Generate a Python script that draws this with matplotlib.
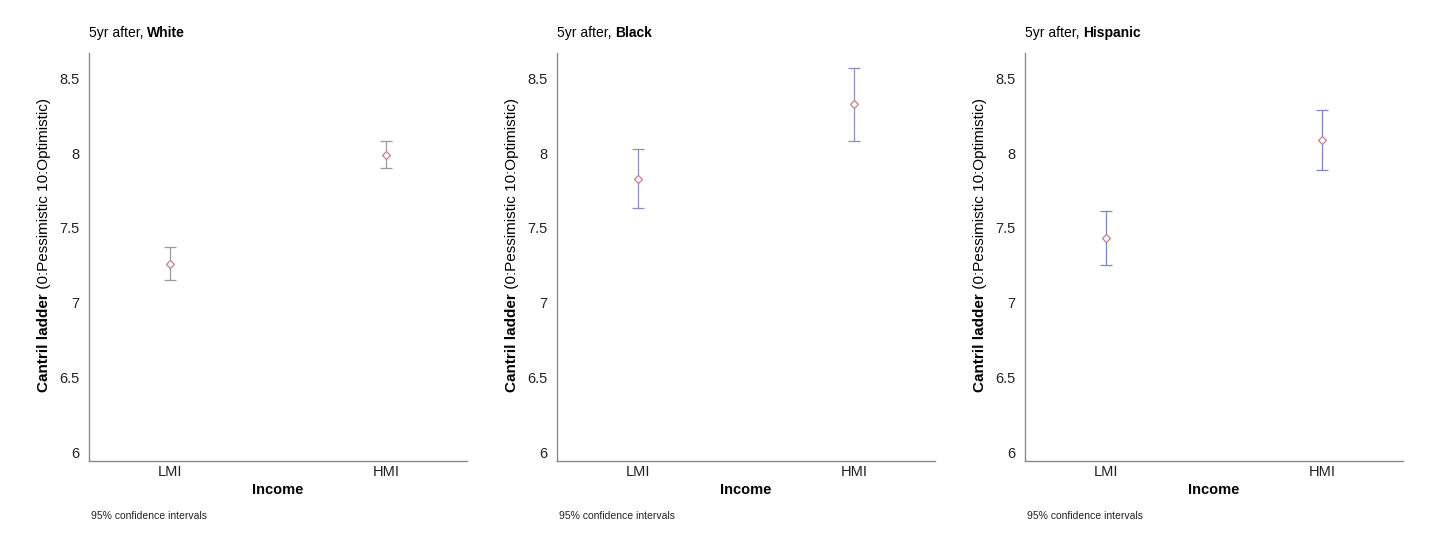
import matplotlib
matplotlib.use("Agg")
import matplotlib.pyplot as plt

plt.rcParams['font.family'] = ['Liberation Sans', 'DejaVu Sans']

groups = ["White", "Black", "Hispanic"]
categories = ["LMI", "HMI"]
means = {"White": [7.26, 7.99], "Black": [7.83, 8.33], "Hispanic": [7.43, 8.09]}
ci_low = {"White": [7.15, 7.90], "Black": [7.63, 8.08], "Hispanic": [7.25, 7.885]}
ci_high = {"White": [7.37, 8.08], "Black": [8.03, 8.57], "Hispanic": [7.61, 8.29]}
yticks = [6, 6.5, 7, 7.5, 8, 8.5]
ytick_labels = ["6", "6.5", "7", "7.5", "8", "8.5"]
bar_colors = {"White": "#9a9aa6", "Black": "#8890c0", "Hispanic": "#7a86c8"}

W, H = 1431, 550
fig = plt.figure(figsize=(W / 100, H / 100), dpi=100)
lefts = [89, 557, 1025]
ax_w = 378
ax_top, ax_bot = 53, 461

axes = []
for g, lx in zip(groups, lefts):
    ax = fig.add_axes([lx / W, (H - ax_bot) / H, ax_w / W, (ax_bot - ax_top) / H])
    axes.append(ax)
    x = list(range(len(categories)))
    m = means[g]
    lo = [mi - l for mi, l in zip(m, ci_low[g])]
    hi = [h - mi for mi, h in zip(m, ci_high[g])]
    ax.errorbar(x, m, yerr=[lo, hi], fmt='none', ecolor=bar_colors[g],
                elinewidth=0.9, capsize=4.2, capthick=0.9, zorder=2)
    ax.plot(x, m, linestyle='none', marker='D', markersize=4.5,
            markerfacecolor='white', markeredgecolor='#c48088',
            markeredgewidth=0.9, zorder=3)
    ax.set_xlim(-0.377, 1.377)
    ax.set_ylim(5.94, 8.67)
    ax.set_yticks(yticks)
    ax.set_yticklabels(ytick_labels)
    ax.set_xticks(x)
    ax.set_xticklabels(categories)
    ax.tick_params(axis='both', length=0, labelsize=10.5, colors='#222222')
    ax.tick_params(axis='y', pad=7)
    ax.tick_params(axis='x', pad=3)
    for s in ['top', 'right']:
        ax.spines[s].set_visible(False)
    for s in ['left', 'bottom']:
        ax.spines[s].set_color('#8a8a8a')
        ax.spines[s].set_linewidth(1.0)
    ax.set_xlabel("Income", fontweight='bold', fontsize=10.5, labelpad=3)
    # title
    t1 = ax.text(0.0, 1.0, "5yr after, ", transform=ax.transAxes,
                 ha='left', va='baseline', fontsize=10)
    t1.set_position((0.0, (H - 37 - (H - ax_bot)) / (ax_bot - ax_top)))
    ax.annotate(g, xy=(1, 0), xycoords=t1, ha='left', va='bottom',
                fontsize=10, fontweight='bold')
    # footnote
    fig.text((lx + 2) / W, (H - 519) / H, "95% confidence intervals",
             fontsize=7.5, ha='left', va='baseline', color='#222222')

# y labels with mixed weight
fig.canvas.draw()
renderer = fig.canvas.get_renderer()
for ax, lx in zip(axes, lefts):
    xpix = lx - 41
    part1 = "Cantril ladder"
    part2 = " (0:Pessimistic 10:Optimistic)"
    ta = fig.text(0, 0, part1, fontsize=11, fontweight='bold', rotation=90,
                  rotation_mode='anchor', ha='left', va='baseline')
    tb = fig.text(0, 0, part2, fontsize=11, rotation=90,
                  rotation_mode='anchor', ha='left', va='baseline')
    la = ta.get_window_extent(renderer).height
    lb = tb.get_window_extent(renderer).height
    total = la + lb
    ycenter_disp = (H - 245)
    ystart = ycenter_disp - total / 2
    ta.set_position((xpix / W, ystart / H))
    tb.set_position((xpix / W, (ystart + la) / H))

fig.savefig("out.png", dpi=100, facecolor='white')
